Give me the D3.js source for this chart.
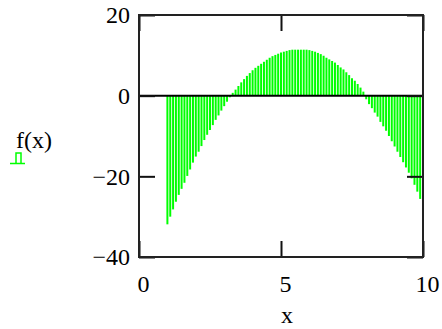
<!DOCTYPE html>
<meta charset="utf-8">
<style>
body {
  margin: 0;
  background-color: #ffffff;
}
text {
  font-family: "Liberation Serif", "Times New Roman", serif;
  font-size: 24px;
  fill: #000;
}
.axis path {
  display: none;
}
.axis line {
  stroke: #111;
  stroke-width: 2px;
}
.stem {
  stroke: #00ff00;
  stroke-width: 2px;
}
</style>
<svg width="442" height="329"></svg>
<script src="https://d3js.org/d3.v7.min.js"></script>
<script>
// sample points of x (step 0.1 from 1 to 10)
var xValues = [1.0, 1.1, 1.2, 1.3, 1.4, 1.5, 1.6, 1.7, 1.8, 1.9,
               2.0, 2.1, 2.2, 2.3, 2.4, 2.5, 2.6, 2.7, 2.8, 2.9,
               3.0, 3.1, 3.2, 3.3, 3.4, 3.5, 3.6, 3.7, 3.8, 3.9,
               4.0, 4.1, 4.2, 4.3, 4.4, 4.5, 4.6, 4.7, 4.8, 4.9,
               5.0, 5.1, 5.2, 5.3, 5.4, 5.5, 5.6, 5.7, 5.8, 5.9,
               6.0, 6.1, 6.2, 6.3, 6.4, 6.5, 6.6, 6.7, 6.8, 6.9,
               7.0, 7.1, 7.2, 7.3, 7.4, 7.5, 7.6, 7.7, 7.8, 7.9,
               8.0, 8.1, 8.2, 8.3, 8.4, 8.5, 8.6, 8.7, 8.8, 8.9,
               9.0, 9.1, 9.2, 9.3, 9.4, 9.5, 9.6, 9.7, 9.8, 9.9,
               10.0];
// f(x)
var fValues = [-31.9, -30.0, -28.2, -26.3, -24.6, -23.1, -21.6, -19.9, -18.3, -16.6,
               -15.1, -13.9, -12.5, -11.0, -9.7, -8.5, -7.3, -6.0, -4.9, -3.7,
               -2.6, -1.5, -0.4, 0.7, 1.5, 2.4, 3.3, 4.1, 4.9, 5.6,
               6.3, 6.9, 7.4, 7.9, 8.4, 8.9, 9.4, 9.8, 10.1, 10.4,
               10.7, 10.9, 11.1, 11.3, 11.4, 11.4, 11.4, 11.4, 11.4, 11.4,
               11.3, 11.1, 10.9, 10.6, 10.3, 9.9, 9.4, 9.0, 8.6, 8.2,
               7.6, 7.0, 6.5, 5.8, 5.1, 4.3, 3.7, 2.9, 2.0, 1.0,
               -0.9, -2.1, -3.1, -4.2, -5.2, -6.5, -7.6, -8.7, -10.0, -11.3,
               -12.6, -13.9, -15.2, -16.5, -17.8, -19.1, -20.5, -22.1, -23.8, -25.6,
               -27.4];
var xTicks = [0, 5, 10];
var yTicks = [-40, -20, 0, 20];

var svg = d3.select("svg"),
    plotLeft = 139, plotRight = 423, plotTop = 15, plotBottom = 257;

var x = d3.scaleLinear().domain([0, 10]).range([plotLeft, plotRight]);
var y = d3.scaleLinear().domain([-40, 20]).range([plotBottom, plotTop]);

var data = xValues.map(function(d, i) { return {x: d, f: fValues[i]}; });

// stems
svg.append("g")
  .selectAll("line")
  .data(data)
  .enter().append("line")
    .attr("class", "stem")
    .attr("x1", function(d) { return x(d.x); })
    .attr("x2", function(d) { return x(d.x); })
    .attr("y1", y(0))
    .attr("y2", function(d) { return y(d.f); });

// zero line
svg.append("line")
    .attr("x1", plotLeft).attr("x2", plotRight)
    .attr("y1", y(0)).attr("y2", y(0))
    .attr("stroke", "#000")
    .attr("stroke-width", 2);

// inward ticks on all four sides
svg.append("g")
    .attr("class", "axis")
    .attr("transform", "translate(" + plotLeft + ",0)")
    .call(d3.axisLeft(y).tickValues(yTicks).tickSize(-16).tickPadding(9))
  .selectAll("text")
    .style("font-size", "24px")
    .style("font-family", "Liberation Serif");

svg.append("g")
    .attr("class", "axis")
    .attr("transform", "translate(" + plotRight + ",0)")
    .call(d3.axisRight(y).tickValues(yTicks).tickSize(-16).tickFormat(""));

svg.append("g")
    .attr("class", "axis")
    .attr("transform", "translate(0," + plotTop + ")")
    .call(d3.axisTop(x).tickValues(xTicks).tickSize(-16).tickFormat(""));

svg.append("g")
    .attr("class", "axis")
    .attr("transform", "translate(0," + plotBottom + ")")
    .call(d3.axisBottom(x).tickValues(xTicks).tickSize(-16).tickPadding(18))
  .selectAll("text")
    .attr("dx", 4)
    .style("font-size", "24px")
    .style("font-family", "Liberation Serif");

// frame
svg.append("rect")
    .attr("x", plotLeft).attr("y", plotTop)
    .attr("width", plotRight - plotLeft).attr("height", plotBottom - plotTop)
    .attr("fill", "none")
    .attr("stroke", "#222")
    .attr("stroke-width", 2);

// axis title
svg.append("text")
    .attr("x", (plotLeft + plotRight) / 2 + 6)
    .attr("y", 323)
    .attr("text-anchor", "middle")
    .text("x");

// trace label with its legend symbol
svg.append("text")
    .attr("x", 16)
    .attr("y", 148)
    .text("f(x)");

svg.append("path")
    .attr("d", "M10,163.5H25M16,163.5V153H21V163.5")
    .attr("fill", "none")
    .attr("stroke", "#00ff00")
    .attr("stroke-width", 1.5);
</script>
